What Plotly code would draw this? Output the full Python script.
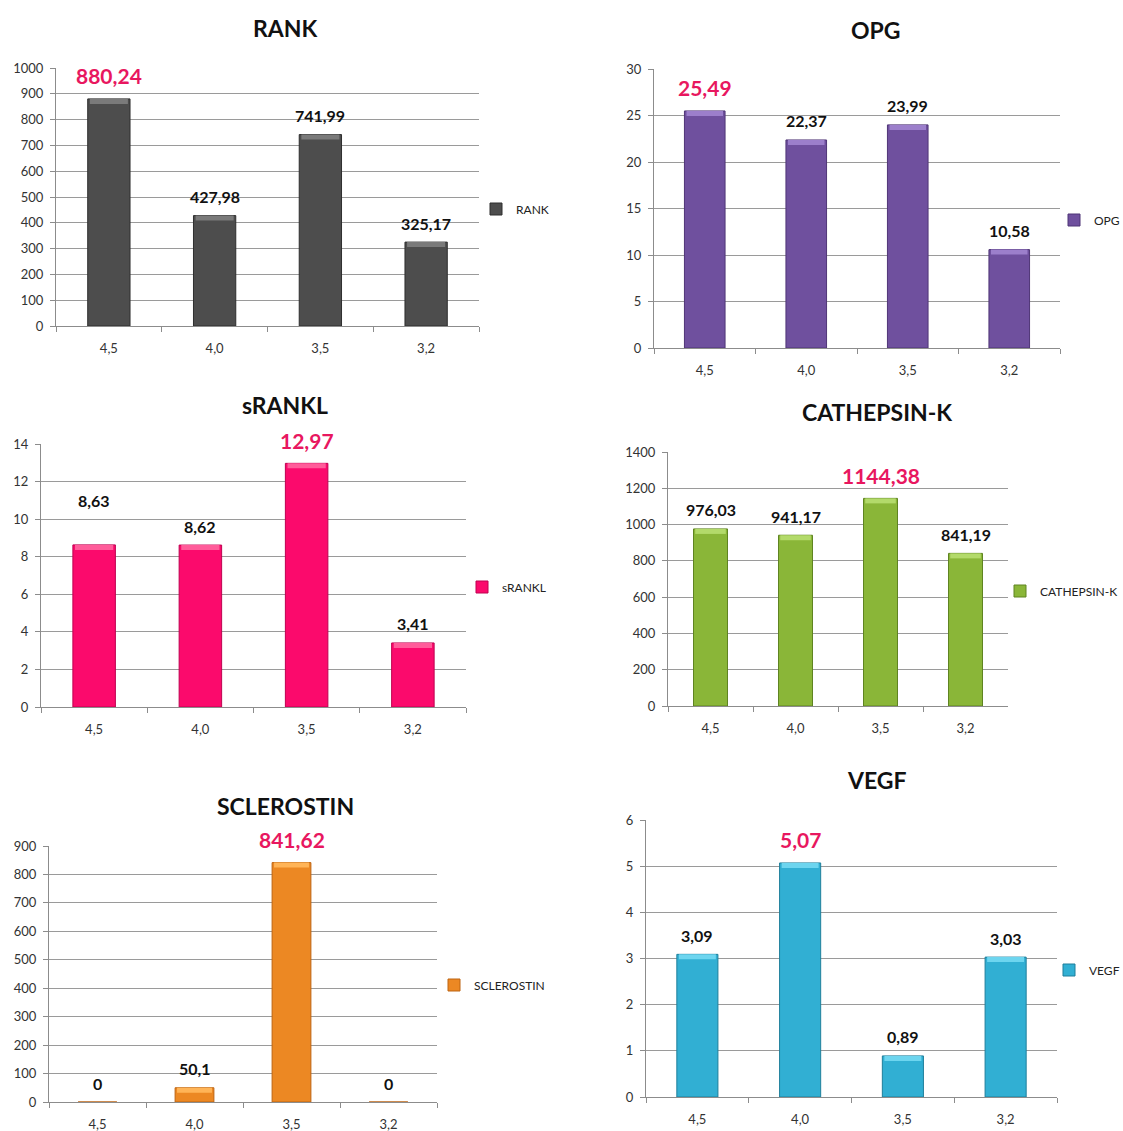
import plotly.graph_objects as go

categories = ["4,5", "4,0", "3,5", "3,2"]

rank_values = [880.24, 427.98, 741.99, 325.17]
opg_values = [25.49, 22.37, 23.99, 10.58]
srankl_values = [8.63, 8.62, 12.97, 3.41]
cathepsin_values = [976.03, 941.17, 1144.38, 841.19]
sclerostin_values = [0, 50.1, 841.62, 0]
vegf_values = [3.09, 5.07, 0.89, 3.03]

series_names = ["RANK", "OPG", "sRANKL", "CATHEPSIN-K", "SCLEROSTIN", "VEGF"]
series_values = [rank_values, opg_values, srankl_values, cathepsin_values,
                 sclerostin_values, vegf_values]
y_max = [1000, 30, 14, 1400, 900, 6]
y_step = [100, 5, 2, 200, 100, 1]

# ---- styling / layout (pixels in a 1123 x 1131 page) ----
W, H = 1123, 1131

colors = ["#4d4d4d", "#6f509e", "#fb0a6c", "#8ab638", "#ec8823", "#31afd3"]
caps = ["#7a7a7a", "#9c7fcb", "#ff5c9a", "#b3da6a", "#ffb457", "#6dd5ef"]
edge = ["#2e2e2e", "#4f3576", "#bf0050", "#5f8421", "#bd6412", "#1f7f9b"]
# plot boxes: (left, right, top, bottom) in px
boxes = [(56, 479, 68, 326), (654, 1060, 69, 348),
         (41, 466, 444, 707), (668, 1008, 452, 706),
         (49, 437, 846, 1102), (646, 1057, 820, 1097)]
title_pos = [(285, 28), (876, 30), (285, 405), (877, 412), (285, 806), (877, 780)]
legend_text_pos = [(516, 209), (1094, 220), (502, 587), (1040, 591), (474, 985), (1089, 970)]
extra_shift = {(2, 0): 25}
CAP_PX = 5

PINK = "#e8175f"
FONT = "Lato"

fig = go.Figure()
layout = dict(width=W, height=H,
              margin=dict(l=0, r=0, t=0, b=0, pad=0, autoexpand=False),
              paper_bgcolor="white", plot_bgcolor="white",
              font=dict(family=FONT, color="#222222"),
              barmode="overlay",
              annotations=[], showlegend=True)

for i, (name, vals) in enumerate(zip(series_names, series_values)):
    ax = "" if i == 0 else str(i + 1)
    leg = "legend" if i == 0 else f"legend{i + 1}"
    l, r, t, b = boxes[i]
    fig.add_trace(go.Bar(
        x=categories, y=vals, name=name,
        xaxis="x" + ax, yaxis="y" + ax, legend=leg,
        width=0.4,
        marker=dict(color=colors[i], line=dict(color=edge[i], width=1)),
        showlegend=True, hoverinfo="x+y",
    ))
    # lighter bevel cap on top of each bar
    cap = CAP_PX * y_max[i] / (b - t)
    cap_h = [min(v, cap) for v in vals]
    cap_base = [v - h for v, h in zip(vals, cap_h)]
    fig.add_trace(go.Bar(
        x=categories, y=cap_h, base=cap_base,
        xaxis="x" + ax, yaxis="y" + ax, legend=leg,
        width=0.36, marker=dict(color=caps[i], line=dict(width=0)),
        showlegend=False, hoverinfo="skip",
    ))
    layout["xaxis" + ax] = dict(
        domain=[l / W, r / W], anchor="y" + ax, type="category",
        showline=True, linecolor="#8c8c8c", linewidth=1,
        ticks="outside", tickson="boundaries", ticklen=5, tickcolor="#8c8c8c",
        tickfont=dict(size=13, color="#333333", family=FONT),
        ticklabelstandoff=10, showgrid=False, fixedrange=True, automargin=False,
    )
    layout["yaxis" + ax] = dict(
        domain=[1 - b / H, 1 - t / H], anchor="x" + ax,
        range=[0, y_max[i]], dtick=y_step[i], tick0=0,
        showline=True, linecolor="#8c8c8c", linewidth=1,
        ticks="outside", ticklen=5, tickcolor="#8c8c8c",
        showgrid=True, gridcolor="#9a9a9a", gridwidth=1,
        zeroline=False,
        tickfont=dict(size=13, color="#333333", family=FONT),
        ticklabelstandoff=4, fixedrange=True, automargin=False,
    )
    lx, ly = legend_text_pos[i]
    layout[leg] = dict(x=(lx - 40) / W, y=1 - ly / H,
                       xanchor="left", yanchor="middle",
                       bgcolor="rgba(0,0,0,0)", borderwidth=0,
                       font=dict(size=12, color="#222222", family=FONT),
                       itemclick=False, itemdoubleclick=False)
    # title
    tx, ty = title_pos[i]
    layout["annotations"].append(dict(
        text=f"<b>{name}</b>", xref="paper", yref="paper",
        x=tx / W, y=1 - ty / H, xanchor="center", yanchor="middle",
        showarrow=False, font=dict(size=23, color="#111111", family=FONT)))
    # data labels
    imax = vals.index(max(vals))
    for j, v in enumerate(vals):
        is_max = j == imax
        txt = str(v).replace(".", ",")
        layout["annotations"].append(dict(
            text=f"<b>{txt}</b>", xref="x" + ax, yref="y" + ax,
            x=categories[j], y=v, xanchor="center", yanchor="middle",
            yshift=(23 if is_max else 19) + extra_shift.get((i, j), 0),
            showarrow=False,
            font=dict(size=21 if is_max else 16, color=PINK if is_max else "#111111",
                      family=FONT)))

fig.update_layout(**layout)
fig.write_html("out.html")
